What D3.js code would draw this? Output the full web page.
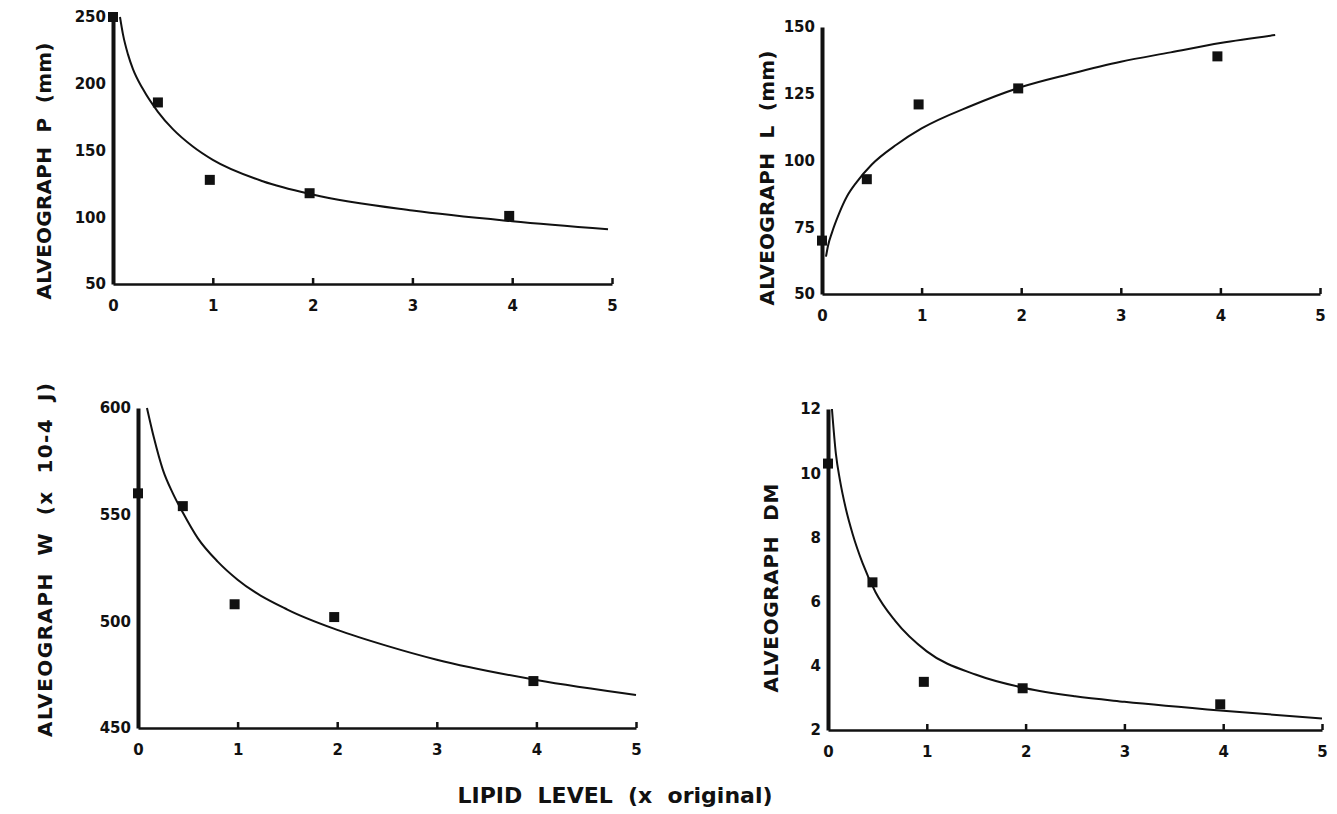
<!DOCTYPE html>
<html>
<head>
<meta charset="utf-8">
<script src="https://cdn.jsdelivr.net/npm/d3@7"></script>
<style>
  body { margin: 0; background: #fff; }
  text { font-family: "DejaVu Sans", sans-serif; font-weight: bold; fill: #111; white-space: pre; }
</style>
</head>
<body>
<div id="chart"></div>
<script>
// lipid level of the five samples (x original)
var lipidLevels = [0, 0.45, 0.97, 1.97, 3.97];

// measured points, one array per alveograph parameter
var pValues  = [250, 186, 128, 118, 101];
var lValues  = [70, 93, 121, 127, 139];
var wValues  = [560, 554, 508, 502, 472];
var dmValues = [10.3, 6.6, 3.5, 3.3, 2.8];

// fitted curves
var pFitX  = [0.07, 0.1, 0.15, 0.2, 0.3, 0.45, 0.6, 0.8, 1.0, 1.5, 2.0, 3.0, 4.0, 4.96];
var pFitY  = [250, 237, 222, 211, 196, 179, 166, 153, 143, 127, 117, 105, 97, 91];
var lFitX  = [0.04, 0.06, 0.1, 0.17, 0.25, 0.35, 0.5, 0.75, 1.0, 1.5, 2.0, 2.5, 3.0, 3.5, 4.0, 4.55];
var lFitY  = [64, 68, 73, 80, 86.5, 92, 98.5, 106, 112, 120.5, 127.5, 132.5, 137, 140.5, 144, 147];
var wFitX  = [0.09, 0.16, 0.25, 0.35, 0.45, 0.6, 0.8, 1.0, 1.5, 2.0, 2.5, 3.0, 4.0, 5.0];
var wFitY  = [600, 586, 571, 560, 551, 539, 528, 519.5, 505.5, 496, 488.5, 482, 472.5, 465.5];
var dmFitX = [0.04, 0.08, 0.12, 0.18, 0.25, 0.35, 0.48, 0.68, 1.0, 1.5, 2.0, 2.5, 3.0, 4.0, 5.0];
var dmFitY = [12, 10.6, 9.8, 8.9, 8.1, 7.2, 6.3, 5.4, 4.45, 3.72, 3.3, 3.05, 2.88, 2.6, 2.36];

// ticks
var xTicks  = [0, 1, 2, 3, 4, 5];
var pTicks  = [50, 100, 150, 200, 250];
var lTicks  = [50, 75, 100, 125, 150];
var wTicks  = [450, 500, 550, 600];
var dmTicks = [2, 4, 6, 8, 10, 12];

var xTitle = "LIPID  LEVEL  (x  original)";

var panels = [
  { title: "ALVEOGRAPH  P  (mm)", values: pValues, fitX: pFitX, fitY: pFitY, ticks: pTicks, domain: [50, 250],
    left: 113, right: 612, top: 17, bottom: 284, titleX: 44, titleY: 171, titleLen: 257 },
  { title: "ALVEOGRAPH  L  (mm)", values: lValues, fitX: lFitX, fitY: lFitY, ticks: lTicks, domain: [50, 150],
    left: 822, right: 1320, top: 27, bottom: 294, titleX: 767, titleY: 178, titleLen: 255 },
  { title: "ALVEOGRAPH  W  (x  10-4  J)", values: wValues, fitX: wFitX, fitY: wFitY, ticks: wTicks, domain: [450, 600],
    left: 138, right: 636, top: 408, bottom: 728, titleX: 45, titleY: 560, titleLen: 354 },
  { title: "ALVEOGRAPH  DM", values: dmValues, fitX: dmFitX, fitY: dmFitY, ticks: dmTicks, domain: [2, 12],
    left: 828, right: 1322, top: 409, bottom: 730, titleX: 771, titleY: 588, titleLen: 209 }
];

var svg = d3.select("#chart")
  .append("svg")
  .attr("width", 1337)
  .attr("height", 814);

panels.forEach(function(p) {
  var x = d3.scaleLinear().domain([0, 5]).range([p.left, p.right]);
  var y = d3.scaleLinear().domain(p.domain).range([p.bottom, p.top]);
  var g = svg.append("g");

  var xAxis = g.append("g")
    .attr("transform", "translate(0," + p.bottom + ")")
    .call(d3.axisBottom(x).tickValues(xTicks).tickFormat(d3.format("d"))
      .tickSizeInner(-6).tickSizeOuter(0).tickPadding(16));
  xAxis.select(".domain").attr("stroke", "#111").attr("stroke-width", 2.5);
  xAxis.selectAll(".tick line").attr("stroke", "#111").attr("stroke-width", 2.5);
  xAxis.selectAll("text").attr("font-size", 15).attr("fill", "#111");

  var yAxis = g.append("g")
    .attr("transform", "translate(" + p.left + ",0)")
    .call(d3.axisLeft(y).tickValues(p.ticks).tickSize(0).tickPadding(7));
  yAxis.select(".domain").attr("stroke", "#111").attr("stroke-width", 4);
  yAxis.selectAll("text").attr("font-size", 15).attr("fill", "#111");

  var line = d3.line()
    .curve(d3.curveMonotoneX)
    .x(d => x(d[0]))
    .y(d => y(d[1]));

  g.append("path")
    .attr("d", line(d3.zip(p.fitX, p.fitY)))
    .attr("fill", "none")
    .attr("stroke", "#111")
    .attr("stroke-width", 2);

  g.append("g")
    .selectAll("rect")
    .data(d3.zip(lipidLevels, p.values))
    .enter()
    .append("rect")
    .attr("x", d => x(d[0]) - 5)
    .attr("y", d => y(d[1]) - 5)
    .attr("width", 10)
    .attr("height", 10)
    .attr("fill", "#111");

  g.append("text")
    .attr("transform", "translate(" + p.titleX + "," + p.titleY + ") rotate(-90)")
    .attr("text-anchor", "middle")
    .attr("dy", "0.35em")
    .attr("font-size", 20)
    .attr("textLength", p.titleLen)
    .text(p.title);
});

svg.append("text")
  .attr("x", 615)
  .attr("y", 803)
  .attr("text-anchor", "middle")
  .attr("font-size", 22)
  .text(xTitle);
</script>
</body>
</html>
